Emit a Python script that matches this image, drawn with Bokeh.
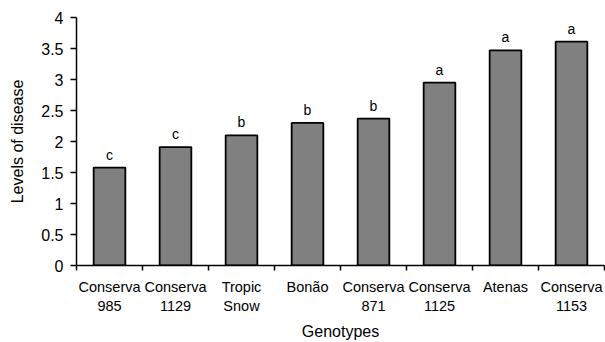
from bokeh.plotting import figure
from bokeh.models import Range1d, FixedTicker, ColumnDataSource
from bokeh.core.properties import value
from bokeh.embed import file_html
from bokeh.resources import INLINE

genotypes = ["Conserva\n985", "Conserva\n1129", "Tropic\nSnow", "Bonão",
             "Conserva\n871", "Conserva\n1125", "Atenas", "Conserva\n1153"]
disease = [1.58, 1.91, 2.10, 2.30, 2.37, 2.95, 3.47, 3.61]
groups = ["c", "c", "b", "b", "b", "a", "a", "a"]
y_ticks = [0, 0.5, 1, 1.5, 2, 2.5, 3, 3.5, 4]

FONT = "Liberation Sans"
n = len(genotypes)
xs = [i + 0.5 for i in range(n)]
src = ColumnDataSource(dict(x=xs, top=disease, grp=groups))

p = figure(width=605, height=342, output_backend="svg", toolbar_location=None,
           x_range=Range1d(0, n), y_range=Range1d(0, 4),
           min_border_left=76, min_border_top=17, min_border_right=1, min_border_bottom=77)
p.outline_line_color = None
p.xgrid.visible = False
p.ygrid.visible = False
p.background_fill_color = "white"

p.vbar(x="x", top="top", width=0.48, bottom=0, source=src,
       fill_color="#808080", line_color="black", line_width=1.8)
p.text(x="x", y="top", text="grp", source=src, y_offset=-5,
       text_align="center", text_baseline="bottom",
       text_font=value(FONT), text_font_size="14px", text_color="black")

# y axis
p.yaxis.ticker = FixedTicker(ticks=y_ticks)
p.yaxis.major_label_overrides = {t: ("%g" % t) for t in y_ticks}
p.yaxis.axis_label = "Levels of disease"
p.yaxis.axis_label_text_font = FONT
p.yaxis.axis_label_text_font_style = "normal"
p.yaxis.axis_label_text_font_size = "16px"
p.yaxis.axis_label_text_color = "black"
p.yaxis.axis_label_standoff = 12
p.yaxis.major_label_text_font = FONT
p.yaxis.major_label_text_font_size = "16px"
p.yaxis.major_label_text_color = "black"
p.yaxis.major_label_standoff = 7
p.yaxis.major_tick_in = 0
p.yaxis.major_tick_out = 6
p.yaxis.minor_tick_line_color = None
p.yaxis.axis_line_width = 1.5
p.yaxis.axis_line_color = "black"
p.yaxis.major_tick_line_color = "black"
p.yaxis.major_tick_line_width = 1.5

# x axis
p.xaxis.ticker = FixedTicker(ticks=xs, minor_ticks=list(range(n + 1)))
p.xaxis.major_label_overrides = {x: g for x, g in zip(xs, genotypes)}
p.xaxis.axis_label = "Genotypes"
p.xaxis.axis_label_text_font = FONT
p.xaxis.axis_label_text_font_style = "normal"
p.xaxis.axis_label_text_font_size = "16px"
p.xaxis.axis_label_text_color = "black"
p.xaxis.axis_label_standoff = 6
p.xaxis.major_label_text_font = FONT
p.xaxis.major_label_text_font_size = "14.5px"
p.xaxis.major_label_text_color = "black"
p.xaxis.major_label_standoff = 8
p.xaxis.major_tick_in = 0
p.xaxis.major_tick_out = 0
p.xaxis.minor_tick_in = 0
p.xaxis.minor_tick_out = 5
p.xaxis.minor_tick_line_color = "black"
p.xaxis.minor_tick_line_width = 1.5
p.xaxis.axis_line_width = 1.5
p.xaxis.axis_line_color = "black"

open("out.html", "w").write(file_html(p, INLINE))
